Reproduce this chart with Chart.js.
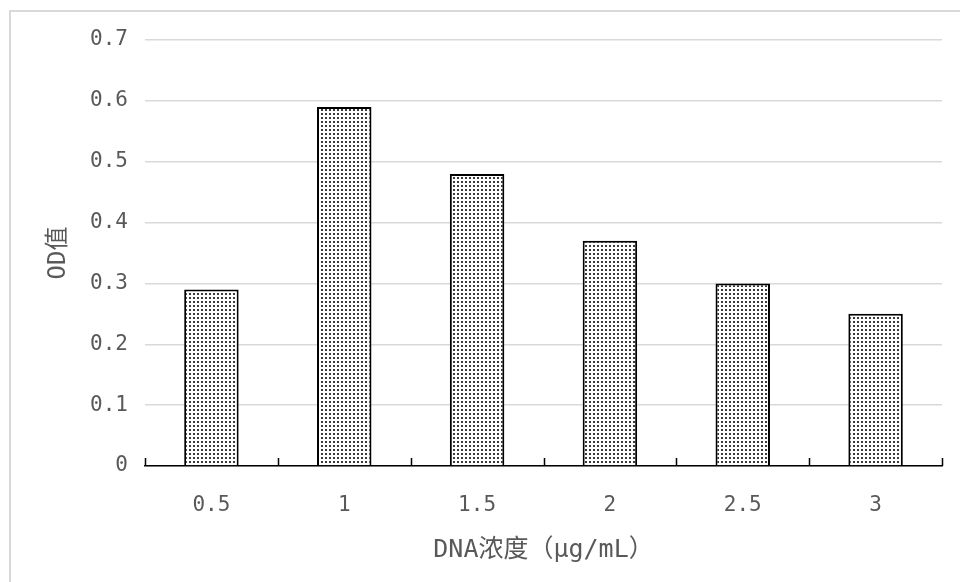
<!DOCTYPE html>
<html>
<head>
<meta charset="utf-8">
<script src="https://cdn.jsdelivr.net/npm/chart.js@4/dist/chart.umd.min.js"></script>
<style>
  body { margin: 0; background: #fff; overflow: hidden; }
  #frame { position: absolute; left: 9px; top: 10px; width: 1000px; height: 1000px; border: 2px solid #d9d9d9; }
  #wrap { position: absolute; left: 0; top: 0; width: 960px; height: 582px; }
</style>
</head>
<body>
<div id="frame"></div>
<div id="wrap"><canvas id="chart" width="960" height="582"></canvas></div>
<script>
// concentrations and measured OD
let concentrations = ['0.5', '1', '1.5', '2', '2.5', '3'];
let odValues = [0.29, 0.59, 0.48, 0.37, 0.30, 0.25];
let yMax = 0.7;
let yStep = 0.1;

const monoFont = '"DejaVu Sans Mono", "Noto Sans CJK SC", monospace';

// dotted fill for the bars
function dotPattern() {
  let tile = document.createElement('canvas');
  tile.width = 4;
  tile.height = 4;
  let c = tile.getContext('2d');
  c.fillStyle = '#fff';
  c.fillRect(0, 0, 4, 4);
  c.fillStyle = '#3a3a3a';
  c.fillRect(1, 1, 2, 2);
  return document.getElementById('chart').getContext('2d').createPattern(tile, 'repeat');
}

// short tick marks pointing up from the category axis, at category boundaries
const innerTicks = {
  id: 'innerTicks',
  afterDatasetsDraw(chart) {
    let x = chart.scales.x;
    let ctx = chart.ctx;
    let n = concentrations.length;
    ctx.save();
    ctx.strokeStyle = '#000';
    ctx.lineWidth = 1.5;
    ctx.beginPath();
    for (let i = 0; i <= n; i++) {
      let px = Math.round(x.left + i * (x.width / n)) + 0.5;
      ctx.moveTo(px, x.top - 8);
      ctx.lineTo(px, x.top);
    }
    ctx.stroke();
    ctx.restore();
  }
};

new Chart(document.getElementById('chart'), {
  type: 'bar',
  data: {
    labels: concentrations,
    datasets: [{
      data: odValues,
      backgroundColor: dotPattern(),
      borderColor: '#000',
      borderWidth: 2,
      barPercentage: 0.41,
      categoryPercentage: 1
    }]
  },
  options: {
    responsive: false,
    animation: false,
    layout: { padding: { left: 30, right: 18, top: 40, bottom: 8 } },
    plugins: { legend: { display: false }, tooltip: { enabled: false } },
    scales: {
      x: {
        grid: { display: false },
        border: { display: true, color: '#000', width: 1.5 },
        ticks: { color: '#595959', font: { family: monoFont, size: 21 }, padding: 19 },
        title: {
          display: true,
          text: 'DNA浓度（μg/mL）',
          color: '#595959',
          font: { family: monoFont, size: 25 },
          padding: 9
        },
        afterFit(scale) { scale.height = 108; }
      },
      y: {
        min: 0,
        max: yMax,
        grid: { color: '#d9d9d9', lineWidth: 1.5, drawTicks: false },
        border: { display: false },
        ticks: {
          stepSize: yStep,
          color: '#595959',
          font: { family: monoFont, size: 21 },
          padding: 17,
          callback: v => Math.round(v * 10) / 10
        },
        title: {
          display: true,
          text: 'OD值',
          color: '#595959',
          font: { family: monoFont, size: 24 },
          padding: 14
        },
        afterFit(scale) { scale.width = 115; }
      }
    }
  },
  plugins: [innerTicks]
});
</script>
</body>
</html>
